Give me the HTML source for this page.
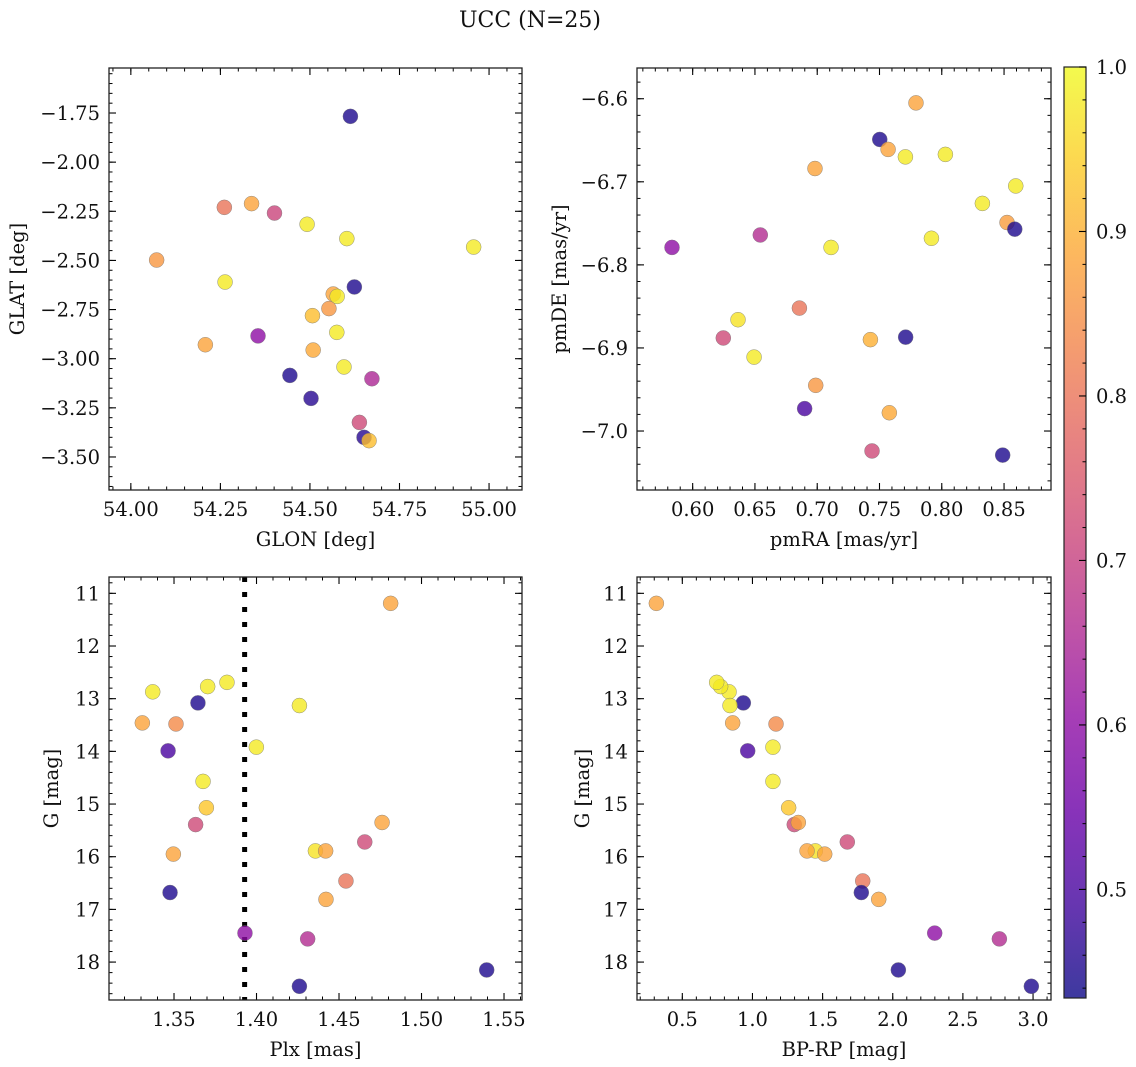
<!DOCTYPE html>
<html><head><meta charset="utf-8"><title>UCC (N=25)</title>
<style>
html,body{margin:0;padding:0;background:#fff;}
svg{display:block;font-family:"DejaVu Serif","Liberation Serif",serif;}
</style></head>
<body>
<svg id="fig" width="1136" height="1067" viewBox="0 0 1136 1067" xmlns="http://www.w3.org/2000/svg">
<text x="530" y="27" font-size="22" text-anchor="middle" fill="#111">UCC (N=25)</text>
</svg>
<script>
// ---- data: panel 1 (GLON vs GLAT)
const glon = [54.613,54.261,54.337,54.401,54.492,54.603,54.957,54.072,54.263,54.624,54.565,54.576,54.553,54.507,54.575,54.355,54.208,54.509,54.595,54.444,54.673,54.503,54.638,54.651,54.665];
const glat = [-1.767,-2.230,-2.211,-2.259,-2.316,-2.389,-2.432,-2.498,-2.610,-2.635,-2.671,-2.683,-2.745,-2.781,-2.866,-2.884,-2.929,-2.956,-3.042,-3.085,-3.102,-3.202,-3.324,-3.400,-3.417];
const prob1 = [0.45,0.80,0.88,0.71,0.98,0.98,0.98,0.86,0.98,0.45,0.88,0.98,0.86,0.92,0.98,0.60,0.88,0.89,0.98,0.45,0.65,0.46,0.72,0.46,0.92];
// ---- data: panel 2 (pmRA vs pmDE)
const pmra = [0.7793,0.7502,0.7569,0.7708,0.8029,0.6982,0.8594,0.8326,0.8524,0.8586,0.7917,0.6543,0.5834,0.7111,0.6857,0.6364,0.6246,0.7710,0.7427,0.6493,0.6988,0.6899,0.7579,0.7440,0.8489];
const pmde = [-6.605,-6.649,-6.661,-6.670,-6.667,-6.684,-6.705,-6.726,-6.749,-6.757,-6.768,-6.764,-6.779,-6.779,-6.852,-6.866,-6.888,-6.887,-6.890,-6.911,-6.945,-6.973,-6.978,-7.024,-7.029];
const prob2 = [0.88,0.45,0.88,0.98,0.98,0.88,0.98,0.98,0.87,0.45,0.98,0.66,0.60,0.98,0.80,0.97,0.72,0.45,0.90,0.98,0.86,0.50,0.89,0.72,0.45];
// ---- data: panels 3 & 4 (Plx, BP-RP vs G)
const plx = [1.4813,1.3371,1.3704,1.3821,1.3645,1.4260,1.3308,1.3512,1.3464,1.3999,1.3676,1.3696,1.3631,1.4761,1.4656,1.4357,1.4419,1.3496,1.4542,1.3476,1.4421,1.3930,1.4310,1.5395,1.4260];
const gmag = [11.19,12.87,12.77,12.69,13.08,13.13,13.46,13.48,13.99,13.92,14.57,15.07,15.39,15.35,15.72,15.89,15.89,15.95,16.46,16.68,16.81,17.45,17.56,18.15,18.46];
const bprp = [0.315,0.833,0.773,0.745,0.935,0.840,0.859,1.168,0.966,1.146,1.146,1.258,1.298,1.327,1.676,1.448,1.389,1.515,1.786,1.776,1.900,2.299,2.760,2.040,2.988];
const prob34 = [0.88,0.98,0.98,0.98,0.45,0.98,0.88,0.84,0.50,0.98,0.98,0.93,0.72,0.88,0.72,0.97,0.88,0.88,0.80,0.45,0.88,0.60,0.66,0.45,0.45];
const plxRef = 1.3928;
// ---- tick labels
const ticksX1 = [54.00,54.25,54.50,54.75,55.00];
const ticksY1 = [-1.75,-2.00,-2.25,-2.50,-2.75,-3.00,-3.25,-3.50];
const ticksX2 = [0.60,0.65,0.70,0.75,0.80,0.85];
const ticksY2 = [-6.6,-6.7,-6.8,-6.9,-7.0];
const ticksX3 = [1.35,1.40,1.45,1.50,1.55];
const ticksG = [11,12,13,14,15,16,17,18];
const ticksX4 = [0.5,1.0,1.5,2.0,2.5,3.0];
const ticksCB = [0.5,0.6,0.7,0.8,0.9,1.0];
const cbMin = 0.434, cbMax = 1.0;

const NS = "http://www.w3.org/2000/svg";
const fig = document.getElementById('fig');
const FS = 19.5;
function mk(tag, attrs, parent){const e=document.createElementNS(NS,tag);for(const k in attrs)e.setAttribute(k,attrs[k]);(parent||fig).appendChild(e);return e;}
const stops=["#0d0887","#41049d","#6a00a8","#8f0da4","#b12a90","#cc4778","#e16462","#f2844b","#fca636","#fcce25","#f0f921"];
function hx(h){return [parseInt(h.substr(1,2),16),parseInt(h.substr(3,2),16),parseInt(h.substr(5,2),16)];}
function plasma(t){t=Math.max(0,Math.min(1,t));const p=t*10,i=Math.min(9,Math.floor(p)),f=p-i;const a=hx(stops[i]),b=hx(stops[i+1]);return "rgb("+a.map((v,k)=>Math.round(v+(b[k]-v)*f)).join(",")+")";}
function cmap(v){return plasma((v-cbMin)/(cbMax-cbMin));}

function panel(o){
  const g=mk('g',{});
  
  
  const sx=v=>o.x0+(v-o.xmin)/(o.xmax-o.xmin)*(o.x1-o.x0);
  const sy=v=>o.inv? o.y0+(v-o.ymin)/(o.ymax-o.ymin)*(o.y1-o.y0) : o.y1-(v-o.ymin)/(o.ymax-o.ymin)*(o.y1-o.y0);
  const eps=1e-9;
  for(let v=Math.ceil(o.xmin/o.xminor-eps)*o.xminor; v<=o.xmax+eps; v+=o.xminor){
    const x=sx(v);
    const t=mk('line',{x1:x,x2:x,y1:o.y1,y2:o.y1-3.5,stroke:"#000","stroke-width":1},g);
    
    const t2=mk('line',{x1:x,x2:x,y1:o.y0,y2:o.y0+3.5,stroke:"#000","stroke-width":1},g);
    
  }
  for(let v=Math.ceil(o.ymin/o.yminor-eps)*o.yminor; v<=o.ymax+eps; v+=o.yminor){
    const y=sy(v);
    const t=mk('line',{x1:o.x0,x2:o.x0+3.5,y1:y,y2:y,stroke:"#000","stroke-width":1},g);
    
    const t2=mk('line',{x1:o.x1,x2:o.x1-3.5,y1:y,y2:y,stroke:"#000","stroke-width":1},g);
    
  }
  o.xt.forEach(v=>{
    const x=sx(v);
    const a=mk('line',{x1:x,x2:x,y1:o.y1,y2:o.y1-7,stroke:"#000","stroke-width":1.1},g);
    
    const b=mk('line',{x1:x,x2:x,y1:o.y0,y2:o.y0+7,stroke:"#000","stroke-width":1.1},g);
    
    const l=mk('text',{x:x,y:o.y1+26,"font-size":FS,"text-anchor":"middle",fill:"#111"},g);
    
    l.textContent=v.toFixed(o.xd).replace('-','\u2212');
  });
  o.yt.forEach(v=>{
    const y=sy(v);
    const a=mk('line',{x1:o.x0,x2:o.x0+7,y1:y,y2:y,stroke:"#000","stroke-width":1.1},g);
    
    const b=mk('line',{x1:o.x1,x2:o.x1-7,y1:y,y2:y,stroke:"#000","stroke-width":1.1},g);
    
    const l=mk('text',{x:o.x0-9,y:y+7,"font-size":FS,"text-anchor":"end",fill:"#111"},g);
    
    l.textContent=v.toFixed(o.yd).replace('-','\u2212');
  });
  if(o.vline!==undefined){
    const x=sx(o.vline);
    const vl=mk('line',{x1:x,x2:x,y1:o.y0,y2:o.y1,stroke:"#000","stroke-width":5,"stroke-dasharray":"5 10"},g);
    
  }
  o.xs.forEach((xv,i)=>{
    const c=mk('circle',{cx:sx(xv),cy:sy(o.ys[i]),r:7.5,fill:cmap(o.cs[i]),"fill-opacity":0.8,stroke:"#777","stroke-width":0.5,"stroke-opacity":0.8},g);
    
    
  });
  const fr=mk('rect',{x:o.x0,y:o.y0,width:o.x1-o.x0,height:o.y1-o.y0,fill:"none",stroke:"#222","stroke-width":1.3},g);
  
  const xl=mk('text',{x:(o.x0+o.x1)/2,y:o.y1+56,"font-size":FS,"text-anchor":"middle",fill:"#111"},g);
  
  xl.textContent=o.xlabel;
  const cy=(o.y0+o.y1)/2;
  const yl=mk('text',{x:o.ylx,y:cy,"font-size":FS,"text-anchor":"middle",fill:"#111",transform:"rotate(-90 "+o.ylx+" "+cy+")"},g);
  
  yl.textContent=o.ylabel;
}

panel({name:'glon-glat-panel',x0:109,x1:522,y0:68,y1:490,xmin:53.939,xmax:55.092,ymin:-3.668,ymax:-1.521,
  xt:ticksX1,yt:ticksY1,xd:2,yd:2,xminor:0.05,yminor:0.05,xs:glon,ys:glat,cs:prob1,xlabel:'GLON [deg]',ylabel:'GLAT [deg]',ylx:24});
panel({name:'pm-panel',x0:637,x1:1051,y0:68,y1:490,xmin:0.5553,xmax:0.8877,ymin:-7.071,ymax:-6.563,
  xt:ticksX2,yt:ticksY2,xd:2,yd:1,xminor:0.01,yminor:0.02,xs:pmra,ys:pmde,cs:prob2,xlabel:'pmRA [mas/yr]',ylabel:'pmDE [mas/yr]',ylx:566});
panel({name:'plx-g-panel',x0:109,x1:522,y0:577,y1:1000,xmin:1.3106,xmax:1.5609,ymin:10.69,ymax:18.72,inv:true,
  xt:ticksX3,yt:ticksG,xd:2,yd:0,xminor:0.01,yminor:0.2,xs:plx,ys:gmag,cs:prob34,xlabel:'Plx [mas]',ylabel:'G [mag]',ylx:58,vline:plxRef});
panel({name:'cmd-panel',x0:637,x1:1051,y0:577,y1:1000,xmin:0.177,xmax:3.128,ymin:10.69,ymax:18.72,inv:true,
  xt:ticksX4,yt:ticksG,xd:1,yd:0,xminor:0.1,yminor:0.2,xs:bprp,ys:gmag,cs:prob34,xlabel:'BP-RP [mag]',ylabel:'G [mag]',ylx:589});

// colorbar
(function(){
  const x0=1064,x1=1086,y0=67,y1=998;
  const g=mk('g',{});
  
  
  const defs=mk('defs',{},g);
  const lg=mk('linearGradient',{id:'cbg',x1:0,y1:1,x2:0,y2:0},defs);
  for(let i=0;i<=20;i++){mk('stop',{offset:i/20,"stop-color":plasma(i/20),"stop-opacity":0.8},lg);}
  const r=mk('rect',{x:x0,y:y0,width:x1-x0,height:y1-y0,fill:"url(#cbg)",stroke:"#222","stroke-width":1.2},g);
  
  const sy=v=>y1-(v-cbMin)/(cbMax-cbMin)*(y1-y0);
  for(let v=0.44;v<=1.0001;v+=0.02){
    const t=mk('line',{x1:x1,x2:x1-3.5,y1:sy(v),y2:sy(v),stroke:"#000","stroke-width":1},g);
    
  }
  ticksCB.forEach(v=>{
    const y=sy(v);
    const t=mk('line',{x1:x1,x2:x1-7,y1:y,y2:y,stroke:"#000","stroke-width":1.1},g);
    
    const l=mk('text',{x:x1+10,y:y+7,"font-size":FS,fill:"#111"},g);
    
    l.textContent=v.toFixed(1);
  });
})();
</script>
</body></html>
